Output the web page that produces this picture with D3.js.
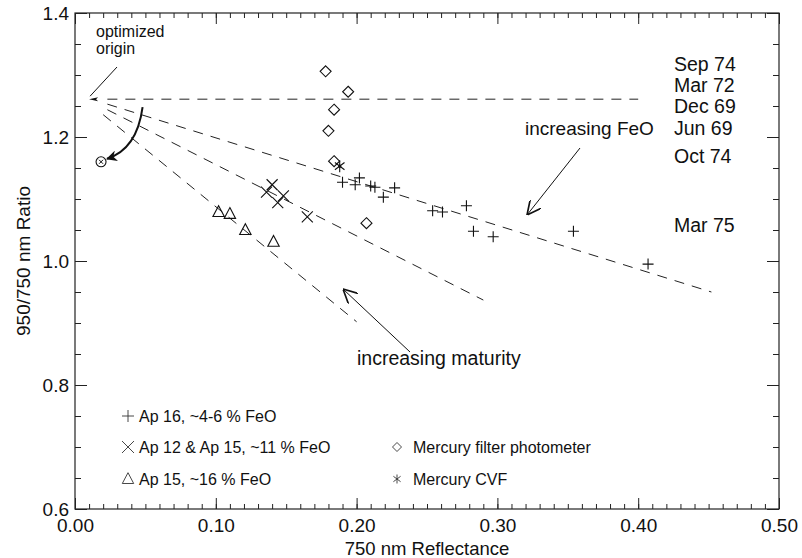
<!DOCTYPE html>
<html>
<head>
<meta charset="utf-8">
<script src="https://cdn.jsdelivr.net/npm/d3@7/dist/d3.min.js"></script>
<style>
  html, body { margin: 0; padding: 0; background: #fff; }
  svg { display: block; }
  text { font-family: "Liberation Sans", Arial, Helvetica, sans-serif; fill: #111; }
</style>
</head>
<body>
<svg id="chart" width="802" height="558"></svg>
<script>
// Lunar soils and Mercury: 950/750 nm ratio vs. 750 nm reflectance

// Apollo 16 soils, ~4-6 % FeO  [reflectance, ratio]
const ap16 = [
  [0.190, 1.127], [0.199, 1.123], [0.202, 1.134], [0.210, 1.121],
  [0.213, 1.119], [0.219, 1.103], [0.227, 1.118], [0.254, 1.081],
  [0.261, 1.079], [0.278, 1.089], [0.283, 1.048], [0.297, 1.039],
  [0.354, 1.048], [0.407, 0.995]
];
// Apollo 12 & Apollo 15 soils, ~11 % FeO
const ap12ap15 = [
  [0.140, 1.123], [0.136, 1.111], [0.148, 1.105], [0.144, 1.094], [0.165, 1.071]
];
// Apollo 15 soils, ~16 % FeO
const ap15 = [
  [0.102, 1.079], [0.110, 1.076], [0.121, 1.050], [0.141, 1.031]
];
// Mercury, filter photometer
const mercuryFilter = [
  [0.178, 1.306], [0.194, 1.273], [0.184, 1.244], [0.180, 1.210],
  [0.184, 1.161], [0.207, 1.061]
];
// Mercury, CVF
const mercuryCVF = [[0.188, 1.153]];
// Point shifted to the origin-corrected position
const shiftedPoint = [[0.0185, 1.160]];

// Optimized origin and the dashed lines radiating from it [start, end]
const origin = [0.010, 1.261];
const fanLines = [
  [[0.023, 1.261], [0.400, 1.261]],
  [[0.023, 1.253], [0.452, 0.950]],
  [[0.023, 1.244], [0.290, 0.937]],
  [[0.020, 1.236], [0.200, 0.902]]
];

// Observation dates
const dates = ["Sep 74", "Mar 72", "Dec 69", "Jun 69", "Oct 74", "Mar 75"];

// Axis ticks and labels
const xMajor = [0, 0.1, 0.2, 0.3, 0.4, 0.5];
const xMinor = d3.range(0, 51).map(i => i / 100);
const yMajor = [0.6, 0.8, 1.0, 1.2, 1.4];
const yMinor = d3.range(12, 29).map(i => i / 20);
const xTickLabels = ["0.00", "0.10", "0.20", "0.30", "0.40", "0.50"];
const yTickLabels = ["0.6", "0.8", "1.0", "1.2", "1.4"];

const svg = d3.select("#chart");
const L = 75, R = 779, T = 13, B = 509;
const x = d3.scaleLinear().domain([0, 0.5]).range([L, R]);
const y = d3.scaleLinear().domain([0.6, 1.4]).range([B, T]);

// ---- marker shapes (size = half width) ----
const shapes = {
  plus: { draw(c, s) { c.moveTo(-s, 0); c.lineTo(s, 0); c.moveTo(0, -s); c.lineTo(0, s); } },
  times: { draw(c, s) { c.moveTo(-s, -s); c.lineTo(s, s); c.moveTo(-s, s); c.lineTo(s, -s); } },
  triangle: { draw(c, s) { c.moveTo(0, -s * 1.05); c.lineTo(s * 0.95, s * 0.75); c.lineTo(-s * 0.95, s * 0.75); c.closePath(); } },
  diamond: { draw(c, s) { c.moveTo(0, -s); c.lineTo(s, 0); c.lineTo(0, s); c.lineTo(-s, 0); c.closePath(); } },
  asterisk: { draw(c, s) {
    c.moveTo(0, -s); c.lineTo(0, s);
    const a = s * 0.8;
    c.moveTo(-a, -a * 0.75); c.lineTo(a, a * 0.75);
    c.moveTo(-a, a * 0.75); c.lineTo(a, -a * 0.75);
  } }
};
const sym = (type, s) => d3.symbol().type(shapes[type]).size(s)();

// ---- frame ----
svg.append("rect")
  .attr("x", L).attr("y", T).attr("width", R - L).attr("height", B - T)
  .attr("fill", "none").attr("stroke", "#222").attr("stroke-width", 1.2);

// ---- axes with inward ticks ----
function axis(gen, vals, len, pos, labels) {
  const a = gen.tickValues(vals).tickSizeInner(-len).tickSizeOuter(0);
  if (labels) a.tickFormat((d, i) => labels[i]); else a.tickFormat("");
  const g = svg.append("g").attr("transform", pos).call(a);
  g.select(".domain").remove();
  g.selectAll(".tick line").attr("stroke", "#222").attr("stroke-width", 1);
  return g;
}
axis(d3.axisBottom(x), xMinor, 5, `translate(0,${B})`);
axis(d3.axisTop(x), xMinor, 5, `translate(0,${T})`);
axis(d3.axisLeft(y), yMinor, 6, `translate(${L},0)`);
axis(d3.axisRight(y), yMinor, 6, `translate(${R},0)`);
const gx = axis(d3.axisBottom(x), xMajor, 11, `translate(0,${B})`, xTickLabels);
axis(d3.axisTop(x), xMajor, 11, `translate(0,${T})`);
const gy = axis(d3.axisLeft(y), yMajor, 12, `translate(${L},0)`, yTickLabels);
axis(d3.axisRight(y), yMajor, 12, `translate(${R},0)`);
gx.selectAll("text").attr("font-size", 19).attr("fill", "#111").attr("y", 10)
  .attr("font-family", "Liberation Sans, Arial, sans-serif");
gy.selectAll("text").attr("font-size", 19).attr("fill", "#111").attr("x", -6)
  .attr("font-family", "Liberation Sans, Arial, sans-serif");

// axis titles
svg.append("text").attr("x", (L + R) / 2).attr("y", 555)
  .attr("text-anchor", "middle").attr("font-size", 18.5).text("750 nm Reflectance");
svg.append("text").attr("transform", `translate(30,${(T + B) / 2}) rotate(-90)`)
  .attr("text-anchor", "middle").attr("font-size", 19).text("950/750 nm Ratio");

// ---- dashed lines from the optimized origin ----
const line = d3.line().x(d => x(d[0])).y(d => y(d[1]));
svg.append("g").selectAll("path").data(fanLines).join("path")
  .attr("d", line).attr("fill", "none").attr("stroke", "#222")
  .attr("stroke-width", 1).attr("stroke-dasharray", "10,8");

// ---- data markers ----
function markers(data, type, s, fill) {
  svg.append("g").selectAll("path").data(data).join("path")
    .attr("transform", d => `translate(${x(d[0])},${y(d[1])})`)
    .attr("d", sym(type, s))
    .attr("fill", fill || "none").attr("stroke", "#111").attr("stroke-width", 1.1);
}
markers(ap16, "plus", 5.5);
markers(ap12ap15, "times", 5.5);
markers(ap15, "triangle", 6);
markers(mercuryFilter, "diamond", 5.5, "#fff");
markers(mercuryCVF, "asterisk", 6);
svg.append("g").selectAll("circle").data(mercuryCVF).join("circle")
  .attr("cx", d => x(d[0])).attr("cy", d => y(d[1])).attr("r", 1.6).attr("fill", "#111");

// shifted point: small circle with a mark inside
const sp = svg.append("g").selectAll("g").data(shiftedPoint).join("g")
  .attr("transform", d => `translate(${x(d[0])},${y(d[1])})`);
sp.append("circle").attr("r", 5).attr("fill", "none").attr("stroke", "#111").attr("stroke-width", 1.1);
sp.append("path").attr("d", sym("times", 2)).attr("stroke", "#111").attr("stroke-width", 1);

// ---- annotations ----
const defs = svg.append("defs");
defs.append("marker").attr("id", "openHead").attr("viewBox", "0 0 10 10")
  .attr("refX", 10).attr("refY", 5).attr("markerWidth", 14).attr("markerHeight", 14)
  .attr("markerUnits", "userSpaceOnUse").attr("orient", "auto")
  .append("path").attr("d", "M0,0 L10,5 L0,10").attr("fill", "none").attr("stroke", "#111").attr("stroke-width", 1.2);
defs.append("marker").attr("id", "solidHead").attr("viewBox", "0 0 10 10")
  .attr("refX", 9).attr("refY", 5).attr("markerWidth", 11).attr("markerHeight", 11)
  .attr("markerUnits", "userSpaceOnUse").attr("orient", "auto")
  .append("path").attr("d", "M0,0 L10,5 L0,10 L3,5 Z").attr("fill", "#111");

// optimized origin label and pointer
svg.append("text").attr("x", 96).attr("y", 37).attr("font-size", 16).text("optimized");
svg.append("text").attr("x", 96).attr("y", 54).attr("font-size", 16).text("origin");
svg.append("line").attr("x1", 117).attr("y1", 67).attr("x2", x(origin[0]) + 1).attr("y2", y(origin[1]) - 3)
  .attr("stroke", "#111").attr("stroke-width", 1);
svg.append("path")
  .attr("d", `M${x(origin[0])},${y(origin[1])} l9,-2 l-2,2 l2,2 Z`)
  .attr("fill", "#111");

// curved bold arrow toward the shifted point
svg.append("path")
  .attr("d", `M${x(0.048)},${y(1.248)} Q${x(0.044)},${y(1.18)} ${x(shiftedPoint[0][0]) + 6},${y(shiftedPoint[0][1]) - 3}`)
  .attr("fill", "none").attr("stroke", "#111").attr("stroke-width", 2)
  .attr("marker-end", "url(#solidHead)");

// increasing FeO
svg.append("text").attr("x", 525).attr("y", 135).attr("font-size", 19).text("increasing FeO");
svg.append("line").attr("x1", 580).attr("y1", 148).attr("x2", 527).attr("y2", 215)
  .attr("stroke", "#111").attr("stroke-width", 1).attr("marker-end", "url(#openHead)");

// increasing maturity
svg.append("text").attr("x", 357).attr("y", 365).attr("font-size", 19.5).text("increasing maturity");
svg.append("line").attr("x1", 410).attr("y1", 352).attr("x2", 343).attr("y2", 289)
  .attr("stroke", "#111").attr("stroke-width", 1).attr("marker-end", "url(#openHead)");

// observation dates
const dateY = [71, 92, 113, 135, 163, 232];
svg.append("g").selectAll("text").data(dates).join("text")
  .attr("x", 674).attr("y", (d, i) => dateY[i]).attr("font-size", 19.5).text(d => d);

// ---- legend ----
const legend = [
  { label: "Ap 16, ~4-6 % FeO", type: "plus", col: 0, row: 0 },
  { label: "Ap 12 & Ap 15, ~11 % FeO", type: "times", col: 0, row: 1 },
  { label: "Ap 15, ~16 % FeO", type: "triangle", col: 0, row: 2 },
  { label: "Mercury filter photometer", type: "diamond", col: 1, row: 1 },
  { label: "Mercury CVF", type: "asterisk", col: 1, row: 2 }
];
const colX = [128, 397], rowY = [416, 447, 479];
const lg = svg.append("g").selectAll("g").data(legend).join("g")
  .attr("transform", d => `translate(${colX[d.col]},${rowY[d.row]})`);
lg.append("path").attr("d", d => sym(d.type, d.col === 0 ? 6 : 4.5))
  .attr("fill", "none").attr("stroke", "#333").attr("stroke-width", 0.9);
lg.append("text").attr("x", d => d.col === 0 ? 11 : 16).attr("y", 6).attr("font-size", 16).text(d => d.label);
</script>
</body>
</html>
